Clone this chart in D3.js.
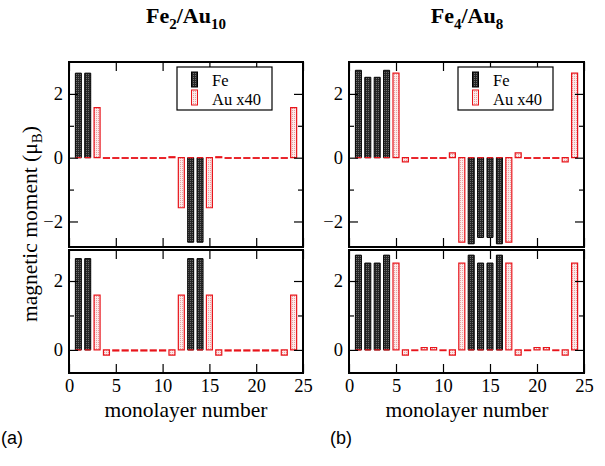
<!DOCTYPE html>
<html>
<head>
<meta charset="utf-8">
<script src="https://cdn.jsdelivr.net/npm/d3@7"></script>
<style>
  body { margin: 0; background: #fff; }
  svg { display: block; }
</style>
</head>
<body>
<div id="main"></div>
<script>
// monolayers 1..24 ; Fe arrays hold null on Au layers
const layers = d3.range(1, 25)

const feTopA = [2.65, 2.65, null, null, null, null, null, null, null, null, null, null,
                -2.65, -2.65, null, null, null, null, null, null, null, null, null, null]
const auTopA = [0, 0, 1.57, -0.02, -0.02, -0.02, -0.02, -0.02, -0.02, -0.02, 0.03, -1.57,
                0, 0, -1.57, 0.03, -0.02, -0.02, -0.02, -0.02, -0.02, -0.02, -0.02, 1.57]
const feBotA = [2.65, 2.65, null, null, null, null, null, null, null, null, null, null,
                2.65, 2.65, null, null, null, null, null, null, null, null, null, null]
const auBotA = [0, 0, 1.59, -0.15, -0.03, -0.03, -0.03, -0.03, -0.03, -0.03, -0.15, 1.59,
                0, 0, 1.59, -0.15, -0.03, -0.03, -0.03, -0.03, -0.03, -0.03, -0.15, 1.59]

const feTopB = [2.74, 2.52, 2.52, 2.74, null, null, null, null, null, null, null, null,
                -2.7, -2.5, -2.5, -2.7, null, null, null, null, null, null, null, null]
const auTopB = [0, 0, 0, 0, 2.65, -0.13, -0.02, -0.02, -0.02, -0.02, 0.15, -2.65,
                0, 0, 0, 0, -2.65, 0.15, -0.02, -0.02, -0.02, -0.02, -0.13, 2.65]
const feBotB = [2.75, 2.52, 2.52, 2.75, null, null, null, null, null, null, null, null,
                2.75, 2.52, 2.52, 2.75, null, null, null, null, null, null, null, null]
const auBotB = [0, 0, 0, 0, 2.52, -0.15, -0.02, 0.07, 0.07, -0.02, -0.15, 2.52,
                0, 0, 0, 0, 2.52, -0.15, -0.02, 0.07, 0.07, -0.02, -0.15, 2.52]

const xTicks = [0, 5, 10, 15, 20, 25]
const topMajor = [-2, 0, 2], topMinor = [-1, 1]
const botMajor = [0, 2], botMinor = [1]
const legendLabels = ["Fe", "Au x40"]

const serif = "'Liberation Serif', 'Times New Roman', serif"
const sans = "'Liberation Sans', Arial, sans-serif"

let width = 605,
    height = 466

var svg = d3.select("div#main")
    .append("svg")
    .attr("width", width)
    .attr("height", height);

// stipple fills
const defs = svg.append("defs")
let pFe = defs.append("pattern").attr("id", "feFill").attr("patternUnits", "userSpaceOnUse")
    .attr("width", 2).attr("height", 2)
pFe.append("rect").attr("width", 2).attr("height", 2).attr("fill", "#262626")
pFe.append("rect").attr("width", 1).attr("height", 1).attr("fill", "#6e6e6e")
let pAu = defs.append("pattern").attr("id", "auFill").attr("patternUnits", "userSpaceOnUse")
    .attr("width", 2).attr("height", 2)
pAu.append("rect").attr("width", 2).attr("height", 2).attr("fill", "#fbeaea")
pAu.append("rect").attr("width", 1).attr("height", 1).attr("fill", "#e8a0a0")

const red = "#e8141b"
const halfW = 0.32

function barPath(x, y, l, v) {
    return "M" + x(l - halfW) + "," + y(0) + "H" + x(l + halfW) + "V" + y(v) + "H" + x(l - halfW) + "Z"
}

function panel(x, y, fe, au, major, minor, showX) {
    let [x0, x1] = x.range()
    let [y1, y0] = y.range()
    let g = svg.append("g")

    g.selectAll(".fe")
        .data(layers.map((l, i) => ({ l: l, v: fe[i] })).filter(d => d.v !== null))
        .join("path")
        .attr("d", d => barPath(x, y, d.l, d.v))
        .attr("fill", "url(#feFill)")
        .attr("stroke", "#000")
        .attr("stroke-width", 1)

    g.selectAll(".au")
        .data(layers.map((l, i) => ({ l: l, v: au[i] })))
        .join("path")
        .attr("d", d => barPath(x, y, d.l, d.v))
        .attr("fill", "url(#auFill)")
        .attr("stroke", red)
        .attr("stroke-width", 1.2)

    const clean = s => s.select(".domain").remove()

    g.append("g").attr("transform", "translate(" + x0 + ",0)")
        .call(d3.axisLeft(y).tickValues(major).tickSize(-9).tickPadding(6).tickFormat(d3.format("d")))
        .call(clean)
    g.append("g").attr("transform", "translate(" + x0 + ",0)")
        .call(d3.axisLeft(y).tickValues(minor).tickSize(-5).tickFormat(""))
        .call(clean)
    g.append("g").attr("transform", "translate(" + x1 + ",0)")
        .call(d3.axisRight(y).tickValues(major).tickSize(-9).tickFormat(""))
        .call(clean)
    g.append("g").attr("transform", "translate(" + x1 + ",0)")
        .call(d3.axisRight(y).tickValues(minor).tickSize(-5).tickFormat(""))
        .call(clean)
    g.append("g").attr("transform", "translate(0," + y0 + ")")
        .call(d3.axisTop(x).tickValues(xTicks).tickSize(-9).tickFormat(""))
        .call(clean)
    g.append("g").attr("transform", "translate(0," + y1 + ")")
        .call(d3.axisBottom(x).tickValues(xTicks).tickSize(-9).tickPadding(6)
            .tickFormat(showX ? d3.format("d") : ""))
        .call(clean)

    g.selectAll(".tick line").attr("stroke", "#000").attr("stroke-width", 1.2)
    g.selectAll(".tick text").style("font-family", serif).style("font-size", "18.5px").attr("fill", "#000")

    g.append("rect")
        .attr("x", x0).attr("y", y0)
        .attr("width", x1 - x0).attr("height", y1 - y0)
        .attr("fill", "none").attr("stroke", "#000").attr("stroke-width", 2)
    return g
}

function legend(xRight) {
    let lx = xRight - 126
    let g = svg.append("g").attr("transform", "translate(" + lx + ",67)")
    g.append("rect").attr("width", 95).attr("height", 43)
        .attr("fill", "#fff").attr("stroke", "#000").attr("stroke-width", 1.2)
    g.selectAll(".sw").data(legendLabels).join("rect")
        .attr("x", 14.5).attr("y", (d, i) => 5 + i * 18)
        .attr("width", 6).attr("height", 15)
        .attr("fill", (d, i) => i ? "url(#auFill)" : "url(#feFill)")
        .attr("stroke", (d, i) => i ? red : "#000")
    g.selectAll(".lb").data(legendLabels).join("text")
        .attr("x", 35).attr("y", (d, i) => 18.5 + i * 19)
        .style("font-family", serif).style("font-size", "16.5px")
        .text(d => d)
}

function title(cx, a, na, b, nb) {
    let t = svg.append("text").attr("x", cx).attr("y", 23)
        .attr("text-anchor", "middle")
        .style("font-family", serif).style("font-size", "22px").style("font-weight", "bold")
    t.append("tspan").text(a)
    t.append("tspan").style("font-size", "15px").attr("dy", 6).text(na)
    t.append("tspan").attr("dy", -6).text("/" + b)
    t.append("tspan").style("font-size", "15px").attr("dy", 6).text(nb)
}

const xa = d3.scaleLinear([0, 25], [69, 303])
const xb = d3.scaleLinear([0, 25], [349, 584])
const yTop = d3.scaleLinear([-2.8, 3], [247, 62])
const yBot = d3.scaleLinear([-0.67, 2.9], [373, 250])

panel(xa, yTop, feTopA, auTopA, topMajor, topMinor, false)
panel(xa, yBot, feBotA, auBotA, botMajor, botMinor, true)
panel(xb, yTop, feTopB, auTopB, topMajor, topMinor, false)
panel(xb, yBot, feBotB, auBotB, botMajor, botMinor, true)

legend(303)
legend(584)

title(186, "Fe", "2", "Au", "10")
title(467, "Fe", "4", "Au", "8")

// axis titles
svg.selectAll(".xt").data([186, 467]).join("text")
    .attr("x", d => d).attr("y", 417)
    .attr("text-anchor", "middle")
    .style("font-family", serif).style("font-size", "21.5px")
    .text("monolayer number")

let yl = svg.append("text")
    .attr("transform", "translate(37,224) rotate(-90)")
    .attr("text-anchor", "middle")
    .style("font-family", serif).style("font-size", "21.5px")
yl.append("tspan").text("magnetic moment (\u03bc")
yl.append("tspan").style("font-size", "15px").attr("dy", 5).text("B")
yl.append("tspan").attr("dy", -5).text(")")

svg.selectAll(".pl").data([["(a)", 1], ["(b)", 330]]).join("text")
    .attr("x", d => d[1]).attr("y", 444)
    .style("font-family", sans).style("font-size", "18px")
    .text(d => d[0])
</script>
</body>
</html>
